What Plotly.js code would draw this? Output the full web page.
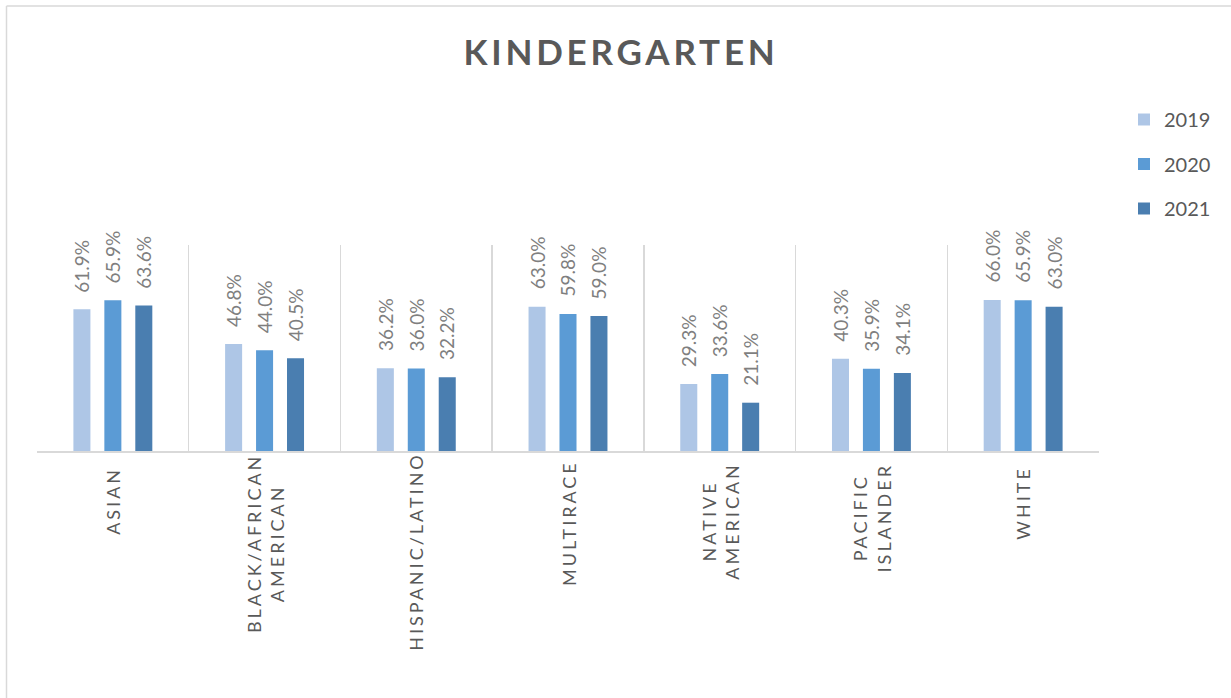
<!DOCTYPE html>
<html>
<head>
<meta charset="utf-8">
<script src="https://cdn.plot.ly/plotly-3.0.1.min.js"></script>
<style>
  html, body { margin: 0; padding: 0; background: #ffffff; }
  #chart { width: 1231px; height: 698px; }
  .gtitle { letter-spacing: 3.8px; }
</style>
</head>
<body>
<div id="chart"></div>
<script>
// ---- data ----
const categories = ['ASIAN', 'BLACK/AFRICAN AMERICAN', 'HISPANIC/LATINO', 'MULTIRACE', 'NATIVE AMERICAN', 'PACIFIC ISLANDER', 'WHITE'];
const tickLabels = ['ASIAN', 'BLACK/AFRICAN<br>AMERICAN', 'HISPANIC/LATINO', 'MULTIRACE', 'NATIVE<br>AMERICAN', 'PACIFIC<br>ISLANDER', 'WHITE'];
const seriesNames = ['2019', '2020', '2021'];
const values2019 = [0.619, 0.468, 0.362, 0.630, 0.293, 0.403, 0.660];
const values2020 = [0.659, 0.440, 0.360, 0.598, 0.336, 0.359, 0.659];
const values2021 = [0.636, 0.405, 0.322, 0.590, 0.211, 0.341, 0.630];
const seriesValues = [values2019, values2020, values2021];
const seriesColors = ['#aec6e6', '#5b9bd5', '#4a7eb0'];

// ---- layout constants ----
const W = 1231, H = 698;
const M = {l: 37, r: 132, t: 245, b: 247};
const plotW = W - M.l - M.r, plotH = H - M.t - M.b;
const bargap = 0.388;
const slot = (1 - bargap) * (plotW / categories.length) / 3;

const traces = seriesNames.map((name, i) => ({
  type: 'bar',
  name: name,
  x: categories,
  y: seriesValues[i],
  marker: {color: seriesColors[i]},
  legendgroup: 'g' + i,
  hoverinfo: 'skip'
}));

const annotations = [];
// category labels (centered multi-line, rotated)
categories.forEach((c, k) => {
  annotations.push({
    xref: 'x', yref: 'paper', x: c, y: 0,
    yshift: -21, xanchor: 'center', yanchor: 'top',
    text: tickLabels[k], textangle: -90, align: 'center',
    showarrow: false,
    font: {family: 'Lato, sans-serif', size: 18, color: '#595959'}
  });
});
const nCat = annotations.length;
// data labels
seriesValues.forEach((vals, i) => {
  vals.forEach((v, k) => {
    annotations.push({
      xref: 'x', yref: 'y', x: categories[k], y: v,
      xshift: (i - 1) * slot, yshift: 15,
      xanchor: 'center', yanchor: 'bottom',
      text: (v * 100).toFixed(1) + '%', textangle: -90,
      showarrow: false,
      font: {family: 'Lato, sans-serif', size: 19, color: '#7f7f7f'}
    });
  });
});

// letter spacing for category labels
let css = '';
for (let k = 0; k < nCat; k++) {
  css += 'g.annotation[data-index="' + k + '"] text { letter-spacing: 3px; }\n';
}
const st = document.createElement('style');
st.textContent = css;
document.head.appendChild(st);

const px2x = p => (p - M.l) / plotW;
const py2y = p => (H - M.b - p) / plotH;

const layout = {
  width: W, height: H,
  margin: M,
  paper_bgcolor: '#ffffff',
  plot_bgcolor: '#ffffff',
  barmode: 'group',
  bargap: bargap,
  bargroupgap: 0.45,
  title: {
    text: '<b>KINDERGARTEN</b>',
    font: {family: 'Lato, sans-serif', size: 35, color: '#595959'},
    x: 621 / W, xref: 'container', xanchor: 'center',
    y: 1 - 53 / H, yref: 'container', yanchor: 'middle'
  },
  xaxis: {
    type: 'category',
    tickson: 'boundaries',
    showgrid: true, gridcolor: '#d9d9d9', gridwidth: 1.5,
    showline: true, linecolor: '#d9d9d9', linewidth: 1.5,
    ticks: '', showticklabels: false,
    zeroline: false, fixedrange: true
  },
  yaxis: {
    range: [0, 0.9],
    visible: false, showgrid: false, zeroline: false, fixedrange: true
  },
  showlegend: true,
  legend: {
    x: px2x(1124), xanchor: 'left',
    y: py2y(100), yanchor: 'top',
    traceorder: 'grouped',
    tracegroupgap: 15.5,
    font: {family: 'Lato, sans-serif', size: 20, color: '#595959'},
    bgcolor: 'rgba(0,0,0,0)'
  },
  annotations: annotations,
  shapes: [
    {type: 'line', xref: 'paper', yref: 'paper', x0: px2x(6.5), x1: px2x(W + 5), y0: py2y(6), y1: py2y(6), line: {color: '#d9d9d9', width: 1.5}},
    {type: 'line', xref: 'paper', yref: 'paper', x0: px2x(6.5), x1: px2x(6.5), y0: py2y(6), y1: py2y(H + 5), line: {color: '#d9d9d9', width: 1.5}}
  ]
};

Plotly.newPlot('chart', traces, layout, {displayModeBar: false, staticPlot: true});
</script>
</body>
</html>
